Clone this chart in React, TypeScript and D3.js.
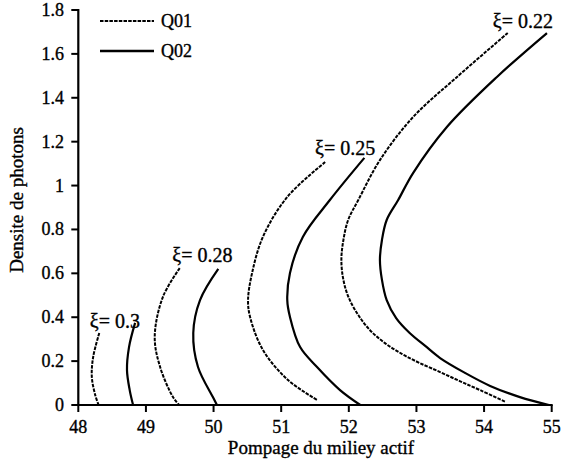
import * as d3 from "d3";
import React from "react";

// curve points [pompage, densite], top end -> bottom end
const q01_022: [number, number][] = [
  [54.35, 1.695], [53.6, 1.495], [52.95, 1.312], [52.46, 1.116], [52.14, 0.934],
  [51.99, 0.843], [51.92, 0.752], [51.89, 0.661], [51.92, 0.57], [52.0, 0.488],
  [52.14, 0.41], [52.31, 0.342], [52.53, 0.283], [52.79, 0.232], [53.05, 0.191],
  [53.35, 0.15], [53.64, 0.109], [53.94, 0.068], [54.32, 0.014],
];
const q02_022: [number, number][] = [
  [54.93, 1.695], [54.19, 1.495], [53.45, 1.267], [52.95, 1.057], [52.73, 0.934],
  [52.56, 0.843], [52.49, 0.752], [52.46, 0.661], [52.49, 0.57], [52.56, 0.478],
  [52.7, 0.396], [52.9, 0.328], [53.13, 0.269], [53.35, 0.214], [53.72, 0.146],
  [54.09, 0.087], [54.53, 0.036], [54.96, 0],
];
const q01_025: [number, number][] = [
  [51.65, 1.107], [51.09, 0.948], [50.73, 0.766], [50.57, 0.602], [50.51, 0.478],
  [50.54, 0.401], [50.73, 0.251], [51.1, 0.114], [51.53, 0.023],
];
const q02_025: [number, number][] = [
  [52.23, 1.126], [51.72, 0.934], [51.32, 0.766], [51.13, 0.602], [51.09, 0.478],
  [51.13, 0.401], [51.28, 0.264], [51.53, 0.173], [51.87, 0.068], [52.17, 0],
];
const q01_028: [number, number][] = [
  [49.5, 0.624], [49.25, 0.492], [49.13, 0.31], [49.21, 0.173], [49.4, 0.036], [49.49, 0],
];
const q02_028: [number, number][] = [
  [50.07, 0.62], [49.8, 0.478], [49.7, 0.328], [49.77, 0.173], [49.99, 0.036], [50.05, 0],
];
const q01_030: [number, number][] = [
  [48.31, 0.328], [48.22, 0.219], [48.2, 0.128], [48.25, 0.046], [48.3, 0],
];
const q02_030: [number, number][] = [
  [48.84, 0.374], [48.75, 0.264], [48.72, 0.159], [48.76, 0.068], [48.81, 0],
];

const xiLabels = [
  { text: "ξ= 0.3", at: [48.17, 0.35] },
  { text: "ξ= 0.28", at: [49.39, 0.65] },
  { text: "ξ= 0.25", at: [51.5, 1.14] },
  { text: "ξ= 0.22", at: [54.13, 1.72] },
];

const xTicks = [48, 49, 50, 51, 52, 53, 54, 55];
const yTicks = [0, 0.2, 0.4, 0.6, 0.8, 1, 1.2, 1.4, 1.6, 1.8];

const W = 565;
const H = 462;
const font = "'Liberation Serif', 'Times New Roman', serif";
const txt = { fontFamily: font, fill: "#000", stroke: "#000", strokeWidth: 0.35 };

export default function App() {
  const x = d3.scaleLinear().domain([48, 55]).range([78.3, 551.7]);
  const y = d3.scaleLinear().domain([0, 1.8]).range([405, 10]);
  const line = d3
    .line<[number, number]>()
    .x((d) => x(d[0]))
    .y((d) => y(d[1]))
    .curve(d3.curveCatmullRom.alpha(0.5));

  const dashed = [q01_022, q01_025, q01_028, q01_030];
  const solid = [q02_022, q02_025, q02_028, q02_030];

  return (
    <div style={{ position: "absolute", left: 0, top: 0 }}>
      <svg width={W} height={H} style={{ display: "block", background: "#fff" }}>
        {dashed.map((d, i) => (
          <path key={"d" + i} d={line(d) || ""} fill="none" stroke="#000"
            strokeWidth={2} strokeDasharray="3.5 1.2" />
        ))}
        {solid.map((d, i) => (
          <path key={"s" + i} d={line(d) || ""} fill="none" stroke="#000" strokeWidth={2.2} />
        ))}

        {/* axes */}
        <line x1={x(48)} x2={x(55) + 1} y1={y(0)} y2={y(0)} stroke="#000" strokeWidth={2.2} />
        <line x1={x(48)} x2={x(48)} y1={y(0) + 1} y2={y(1.8) - 1} stroke="#000" strokeWidth={2.2} />
        {xTicks.map((t) => (
          <g key={"x" + t}>
            <line x1={x(t)} x2={x(t)} y1={y(0)} y2={y(0) + 7} stroke="#000" strokeWidth={2} />
            <text x={x(t)} y={433} textAnchor="middle" fontSize={18} {...txt}>{t}</text>
          </g>
        ))}
        {yTicks.map((t) => (
          <g key={"y" + t}>
            <line x1={x(48) - 7} x2={x(48)} y1={y(t)} y2={y(t)} stroke="#000" strokeWidth={2} />
            <text x={64} y={y(t) + 6} textAnchor="end" fontSize={18} {...txt}>{t}</text>
          </g>
        ))}

        {/* axis titles */}
        <text x={321} y={454} textAnchor="middle" fontSize={19} {...txt}>
          Pompage du miliey actif
        </text>
        <text transform="translate(23,200) rotate(-90)" textAnchor="middle" fontSize={19} {...txt}>
          Densite de photons
        </text>

        {/* curve labels */}
        {xiLabels.map((l) => (
          <text key={l.text} x={x(l.at[0])} y={y(l.at[1])} fontSize={20} {...txt}>{l.text}</text>
        ))}

        {/* legend */}
        <line x1={100} x2={154} y1={21} y2={21} stroke="#000" strokeWidth={2} strokeDasharray="3.5 1.2" />
        <text x={161} y={27} fontSize={18} {...txt}>Q01</text>
        <line x1={100} x2={154} y1={51} y2={51} stroke="#000" strokeWidth={2.6} />
        <text x={161} y={57} fontSize={18} {...txt}>Q02</text>
      </svg>
    </div>
  );
}
